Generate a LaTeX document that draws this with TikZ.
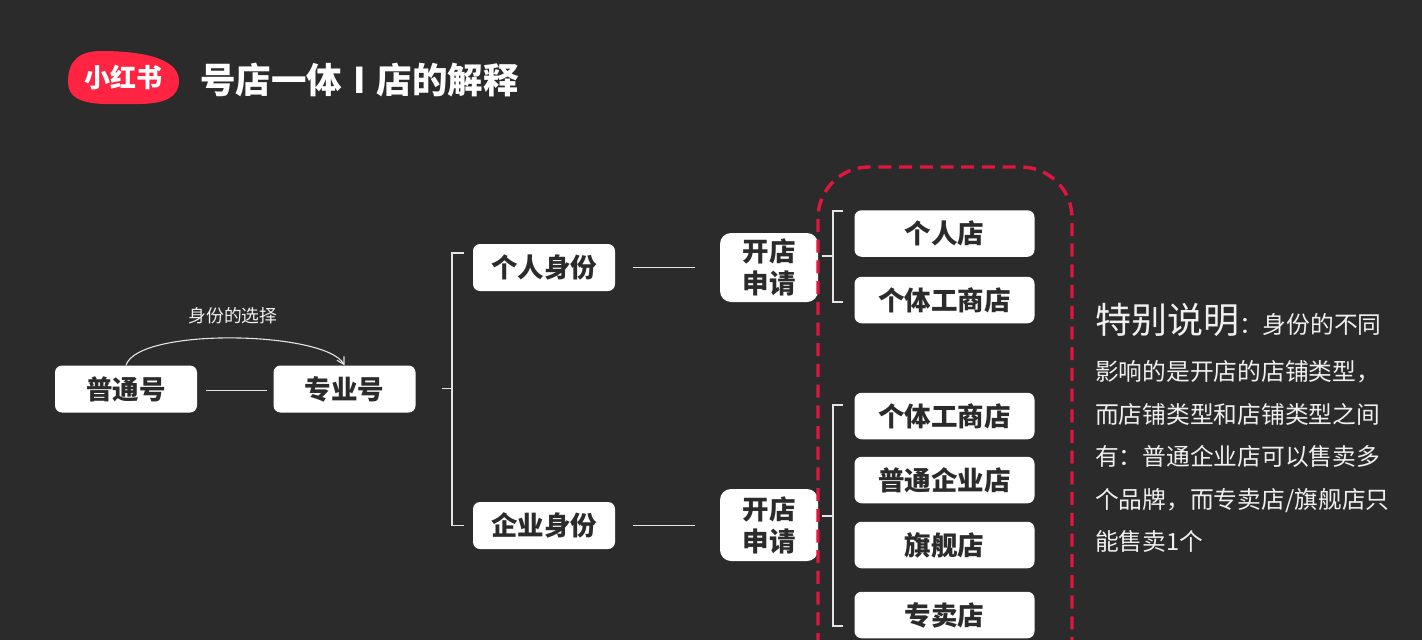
\documentclass[tikz,border=0pt]{standalone}
\usepackage{fontspec}
\setmainfont{Noto Sans CJK SC}
\usetikzlibrary{arrows.meta,positioning,calc}
\definecolor{RBBack}{HTML}{2B2B2B}
\definecolor{RBInk}{HTML}{2B2B2B}
\definecolor{RBRed}{HTML}{FF2442}
\definecolor{RBDash}{HTML}{E0163F}
\definecolor{RBWire}{HTML}{E4E4E4}
\definecolor{RBNote}{HTML}{F0F0F0}
\tikzset{
  card/.style={fill=white,rounded corners=7pt,text=RBInk,inner sep=0pt,align=center,
               font=\fontsize{26.5}{32}\selectfont\bfseries},
  idcard/.style={card,minimum width=142pt,minimum height=47pt},
  applycard/.style={card,minimum width=98pt,rounded corners=11pt},
  shopcard/.style={card,minimum width=180pt,minimum height=46.5pt},
  wire/.style={RBWire,line width=1.1pt},
  choice/.style={wire,-{Straight Barb[length=7pt,width=10pt,angle'=60]}},
  shopzone/.style={RBDash,line width=3.4pt,dash pattern=on 13pt off 7.7pt,rounded corners=51pt},
  heading/.style={text=white,font=\fontsize{35.5}{40}\selectfont\bfseries},
  caption/.style={text=RBNote,font=\fontsize{17.8}{22}\selectfont},
  remark/.style={text=RBNote,font=\fontsize{23.75}{42.6}\selectfont,align=left,inner sep=0pt},
}
\begin{document}
\begin{tikzpicture}[x=1pt,y=-1pt]
    \fill[RBBack] (0,0) rectangle (1422,640);
    \useasboundingbox (0,0) rectangle (1422,640);

    % logo and title
    \fill[RBRed] (68,82) .. controls (68,60) and (80,51) .. (101,51)
      .. controls (135,51) and (179,56) .. (179,81)
      .. controls (179,97) and (165,104) .. (138,104)
      .. controls (105,104) and (68,108) .. (68,82) -- cycle;
    \node[text=white,font=\fontsize{26}{30}\selectfont\bfseries] (logo) at (123.5,78) {小红书};
    \node[heading,anchor=west,inner sep=0pt] (title) at (200,80)
      {号店一体\ \kern3pt I\kern3pt\ 店的解释};

    % left side
    \node[idcard] (putong) at (126,389) {普通号};
    \node[idcard] (zhuanye) at (344.5,389) {专业号};
    \node[caption] (choose) at (233,316) {身份的选择};
    \draw[wire,shorten <=9pt,shorten >=6pt] ([yshift=-1.5pt]putong.east) -- ([yshift=-1.5pt]zhuanye.west);
    \draw[choice] (putong.north) .. controls (138,327) and (325,331) .. (zhuanye.north);

    \node[idcard] (geren) at (544,267.5) {个人身份};
    \node[idcard] (qiye) at (544,525.5) {企业身份};
    \coordinate (trunkid) at (452,388.5);
    \draw[wire,shorten <=26pt] (zhuanye.east |- trunkid) -- (trunkid);
    \draw[wire,shorten >=9pt] (trunkid) |- ([yshift=14.5pt]geren.west);
    \draw[wire,shorten >=9pt] (trunkid) |- (qiye.west);

    % apply boxes
    \node[applycard,minimum height=69pt] (applya) at (769,267.5) {开店\\申请};
    \node[applycard,minimum height=72pt] (applyb) at (769,525) {开店\\申请};
    \draw[wire,shorten <=18pt,shorten >=25pt] (geren) -- (applya);
    \draw[wire,shorten <=18pt,shorten >=25pt] (qiye) -- (applyb.west |- qiye);

    % shops
    \node[shopcard] (gerendian) at (944.5,233.5) {个人店};
    \node[shopcard] (getia) at (944.5,300) {个体工商店};
    \node[shopcard] (getib) at (944.5,416) {个体工商店};
    \node[shopcard] (putongdian) at (944.5,480) {普通企业店};
    \node[shopcard] (qijian) at (944.5,545) {旗舰店};
    \node[shopcard] (zhuanmai) at (944.5,615) {专卖店};

    \coordinate (trunka) at (833,256);
    \coordinate (trunkb) at (833,516);
    \draw[wire,shorten <=4pt] (applya.east |- trunka) -- (trunka);
    \draw[wire,shorten >=11pt] (trunka) |- ([yshift=22.5pt]gerendian.west);
    \draw[wire,shorten >=11pt] (trunka) |- ([yshift=-2pt]getia.west);
    \draw[wire,shorten <=4pt] (applyb.east |- trunkb) -- (trunkb);
    \draw[wire,shorten >=11pt] (trunkb) |- ([yshift=11pt]getib.west);
    \draw[wire,shorten >=11pt] (trunkb) |- ([yshift=-11pt]zhuanmai.west);

    \draw[shopzone] (818,646) -- (818,167) -- (1072,167) -- (1072,646);

    % note on the right
    \node[remark,anchor=north west] (note) at (1095,303)
      {{\fontsize{36}{42.6}\selectfont 特别说明}：身份的不同\\[4.4pt]
       影响的是开店的店铺类型，\\
       而店铺类型和店铺类型之间\\
       有：普通企业店可以售卖多\\
       个品牌，而专卖店/旗舰店只\\
       能售卖1个};
\end{tikzpicture}
\end{document}
